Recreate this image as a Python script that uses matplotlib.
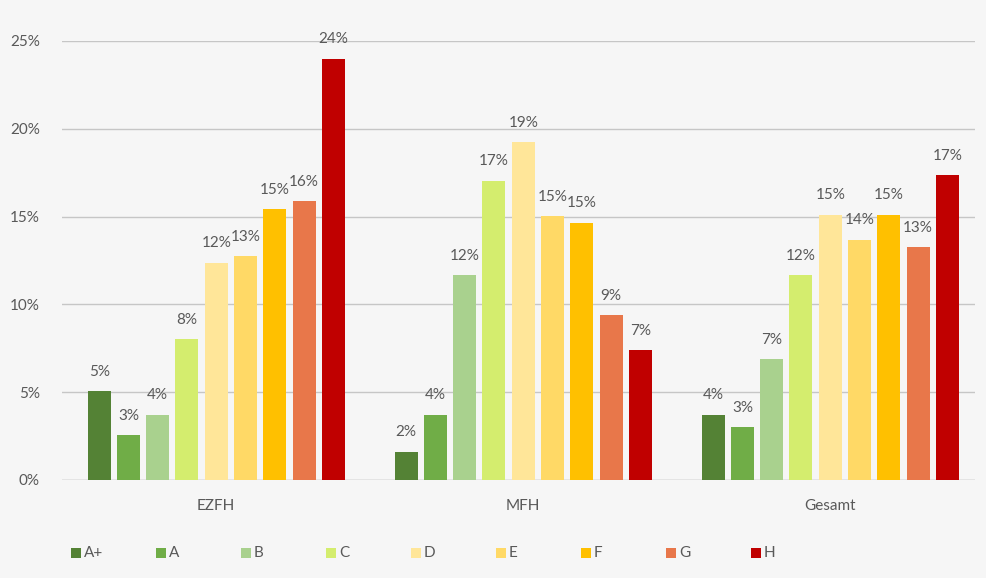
import numpy as np
import matplotlib
matplotlib.use("Agg")
import matplotlib.pyplot as plt
from matplotlib.patches import Rectangle

groups = ["EZFH", "MFH", "Gesamt"]
classes = ["A+", "A", "B", "C", "D", "E", "F", "G", "H"]
colors = ["#548235", "#70ad47", "#a9d18e", "#d4ed6e", "#ffe699",
          "#ffd966", "#ffc000", "#e8774a", "#c00000"]

# share per efficiency class (%) per building type
ezfh = [5.06, 2.55, 3.71, 8.02, 12.36, 12.74, 15.42, 15.86, 23.99]
mfh = [1.60, 3.71, 11.65, 17.05, 19.22, 15.02, 14.66, 9.37, 7.40]
gesamt = [3.71, 3.00, 6.88, 11.65, 15.10, 13.69, 15.10, 13.25, 17.34]
values = np.array([ezfh, mfh, gesamt])

yticks = [0, 5, 10, 15, 20, 25]
ytick_labels = ["0%", "5%", "10%", "15%", "20%", "25%"]

bg = "#f6f6f6"
txt = "#595959"
plt.rcParams["font.family"] = ["Lato", "DejaVu Sans"]

W, H = 986, 578
fig = plt.figure(figsize=(W / 100, H / 100), dpi=100, facecolor=bg)
ax = fig.add_axes([0.063, 0.1696, 0.926, 0.7595], facecolor=bg)

x = np.arange(len(groups))
pitch = 0.0953
width = 0.0749
for i, cls in enumerate(classes):
    pos = x + (i - 4) * pitch
    bars = ax.bar(pos, values[:, i], width=width, color=colors[i], label=cls, zorder=3)
    for b, v in zip(bars, values[:, i]):
        ax.annotate("%d%%" % round(v), (b.get_x() + b.get_width() / 2, v),
                    xytext=(0, 14), textcoords="offset points",
                    ha="center", va="center", fontsize=11, color=txt)

ax.set_xlim(-0.502, 2.472)
ax.set_ylim(0, 25)
ax.set_yticks(yticks)
ax.set_yticklabels(ytick_labels)
ax.set_xticks(x)
ax.set_xticklabels(groups)
ax.grid(axis="y", color="#c6c6c6", linewidth=1, zorder=0)
ax.tick_params(axis="both", length=0, labelsize=11, colors=txt)
ax.tick_params(axis="x", pad=14)
ax.tick_params(axis="y", pad=16)
for s in ax.spines.values():
    s.set_visible(False)
ax.axhline(0, color="#c6c6c6", linewidth=1, zorder=2)

# legend laid out with even spacing, like the original
leg_y = 553
for i, (cls, c) in enumerate(zip(classes, colors)):
    lx = 71 + i * 85
    fig.patches.append(Rectangle((lx / W, 1 - (leg_y + 5) / H), 10 / W, 10 / H,
                                 transform=fig.transFigure, facecolor=c, edgecolor="none"))
    fig.text((lx + 13) / W, 1 - leg_y / H, cls, ha="left", va="center",
             fontsize=11, color=txt)

fig.savefig("out.png", dpi=100, facecolor=bg)
